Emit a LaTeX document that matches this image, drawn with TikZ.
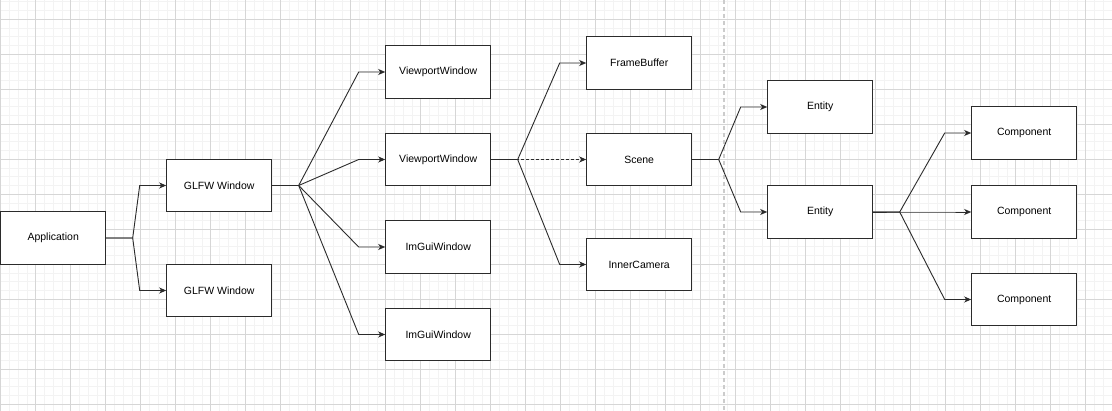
\documentclass[tikz,border=0pt]{standalone}
\usepackage{fontspec}
\setmainfont{Liberation Sans}
\usetikzlibrary{arrows.meta}
\definecolor{minorgrid}{HTML}{F3F3F3}
\definecolor{majorgrid}{HTML}{D6D6D6}
\definecolor{sepgrey}{HTML}{CCCCCC}
\definecolor{linecol}{HTML}{2B2B2B}
\begin{document}
\begin{tikzpicture}[x=1pt,y=-1pt,
  box/.style={draw=linecol,line width=1pt,fill=white,minimum width=105pt,minimum height=52.5pt,inner sep=0pt,font=\fontsize{10.5}{12}\selectfont,text=black},
  conn/.style={draw=linecol,line width=0.9pt,-{Stealth[length=7pt,width=6pt,inset=2pt]}},
  dconn/.style={conn,dash pattern=on 3pt off 2pt}]
\useasboundingbox (0,0) rectangle (1112,411);
\fill[white] (0,0) rectangle (1112,411);
% minor grid
\foreach \k in {0,...,127} {\draw[minorgrid,line width=0.8pt] ({0.7+8.75*\k},0) -- ({0.7+8.75*\k},411);}
\foreach \k in {0,...,46} {\draw[minorgrid,line width=0.8pt] (0,{1.8+8.75*\k}) -- (1112,{1.8+8.75*\k});}
% major grid
\foreach \k in {0,...,31} {\draw[majorgrid,line width=0.9pt] ({0.7+35*\k},0) -- ({0.7+35*\k},411);}
\foreach \k in {0,...,11} {\draw[majorgrid,line width=0.9pt] (0,{19.3+35*\k}) -- (1112,{19.3+35*\k});}
% separator
\coordinate (septop) at (724,0);
\coordinate (sepbot) at (724,411);
\draw[sepgrey,line width=2pt,dash pattern=on 4.5pt off 2.5pt] (septop) -- (sepbot);
% nodes
\node[box] (app) at (53.2,238) {Application};
\node[box] (g1) at (219.2,185.5) {GLFW Window};
\node[box] (g2) at (219.2,290.5) {GLFW Window};
\node[box] (vp1) at (438.2,72) {ViewportWindow};
\node[box] (vp2) at (438.2,159.5) {ViewportWindow};
\node[box] (im1) at (438.2,247) {ImGuiWindow};
\node[box] (im2) at (438.2,334.5) {ImGuiWindow};
\node[box] (fb) at (639.2,63) {FrameBuffer};
\node[box] (scene) at (639.2,159.5) {Scene};
\node[box] (cam) at (639.2,264.5) {InnerCamera};
\node[box] (e1) at (820.2,107) {Entity};
\node[box] (e2) at (820.2,212) {Entity};
\node[box] (c1) at (1024.2,133) {Component};
\node[box] (c2) at (1024.2,212) {Component};
\node[box] (c3) at (1024.2,299.5) {Component};
% connectors
\foreach \s/\t in {app/g1,app/g2,g1/vp1,g1/vp2,g1/im1,g1/im2,vp2/fb,vp2/cam,scene/e1,scene/e2,e2/c1,e2/c2,e2/c3}
  {\draw[conn] (\s.east) -- ++(26.5,0) -- ([xshift=-26.5pt]\t.west) -- (\t.west);}
\draw[dconn] (vp2.east) -- ++(26.5,0) -- (scene.west);
\end{tikzpicture}
\end{document}
